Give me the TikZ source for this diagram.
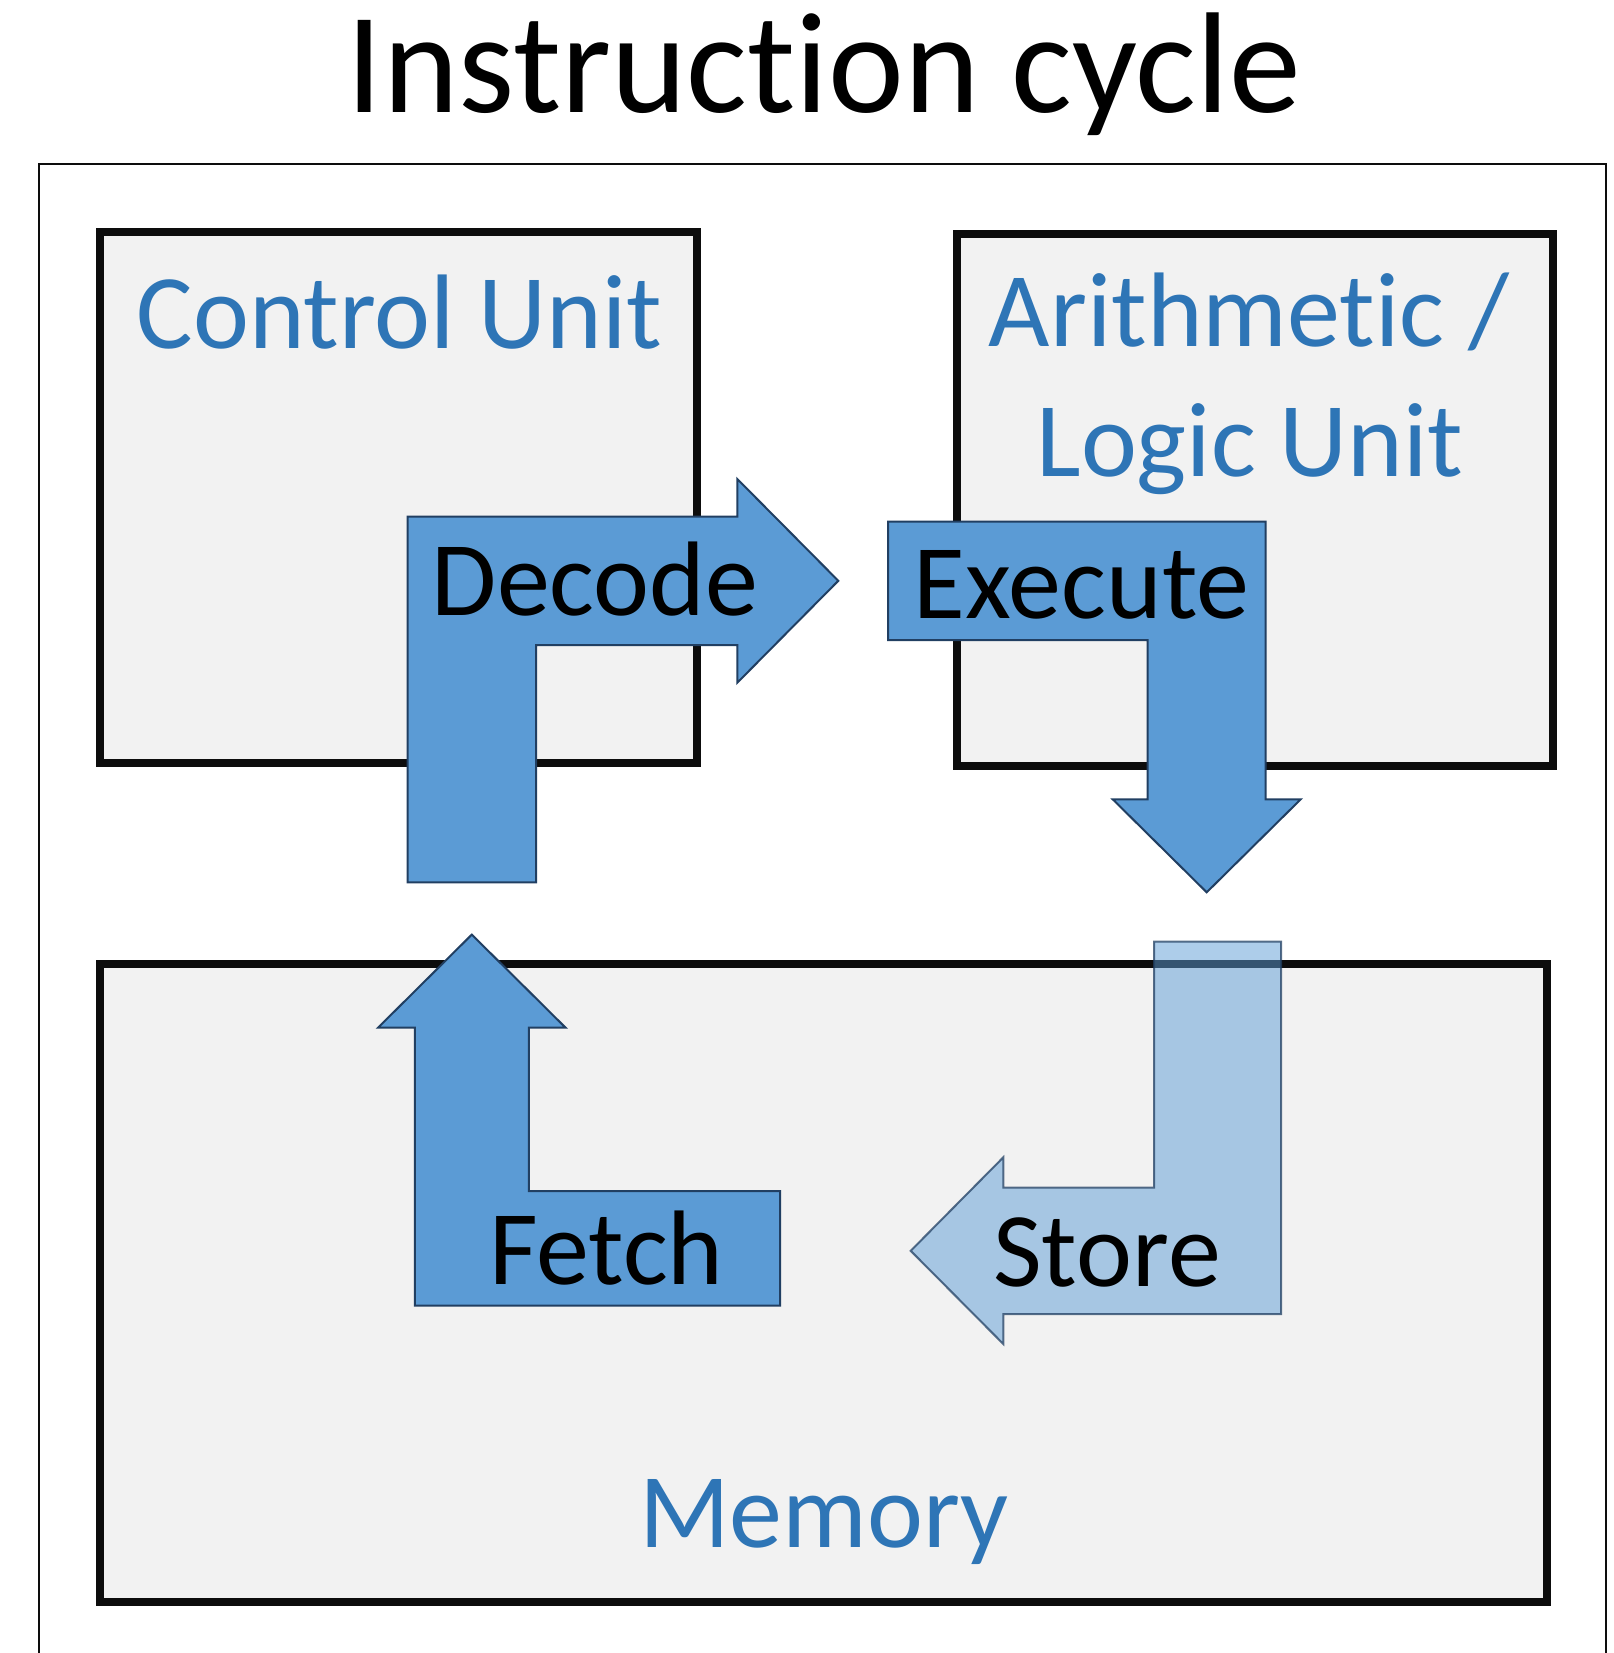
\documentclass[tikz,border=0pt]{standalone}
\usepackage{fontspec}
\setmainfont{Carlito}[Ligatures={NoCommon}]
\definecolor{boxfill}{HTML}{F2F2F2}
\definecolor{boxline}{HTML}{0D0D0D}
\definecolor{unitblue}{HTML}{2E75B6}
\definecolor{arrowfill}{HTML}{5B9BD5}
\definecolor{arrowline}{HTML}{213F62}
\tikzset{
  unitbox/.style={draw=boxline, fill=boxfill, line width=4pt},
  blockarrow/.style={draw=arrowline, fill=arrowfill, line width=1pt, line join=miter},
  fadedarrow/.style={blockarrow, fill opacity=0.5, draw opacity=0.75},
  unitlabel/.style={anchor=base, inner sep=0pt, text=unitblue, font=\fontsize{53}{64}\selectfont},
  steplabel/.style={anchor=base, inner sep=0pt, text=black, font=\fontsize{53}{64}\selectfont},
}
\begin{document}
\begin{tikzpicture}[x=0.5pt, y=-0.5pt]
\useasboundingbox (0,0) rectangle (1613,1653);

% title
\node[anchor=base, inner sep=0pt, font=\fontsize{71.8}{86}\selectfont] (title) at (824,112.8) {Instruction cycle};

% outer frame, open at the bottom
\draw[boxline, line width=1pt] (39.3,1660) -- (39.3,164) -- (1605.7,164) -- (1605.7,1660);

% the three units
\draw[unitbox] (100.3,231.7) rectangle (696.7,763.3);
\draw[unitbox] (957,234) rectangle (1553,765.5);
\draw[unitbox] (100.3,964) rectangle (1546.5,1602);

\node[unitlabel] (cu) at (399.6,348.6) {Control Unit};
\node[unitlabel] (alu1) at (1249,346.6) {Arithmetic /};
\node[unitlabel] (alu2) at (1250,476.2) {Logic Unit};
\node[unitlabel] (mem) at (824,1547) {Memory};

% decode: up out of the control unit, then right
\draw[blockarrow] (407.7,882.3) -- (407.7,516.7) -- (737.3,516.7) -- (737.3,479)
  -- (838.3,580.8) -- (737.3,682.7) -- (737.3,645) -- (536,645) -- (536,882.3) -- cycle;

% execute: right, then down out of the ALU
\draw[blockarrow] (888,521.5) -- (1265.7,521.5) -- (1265.7,799.3) -- (1300.7,799.3)
  -- (1206.7,892.3) -- (1112.7,799.3) -- (1147.7,799.3) -- (1147.7,640) -- (888,640) -- cycle;

% fetch: left along the memory, then up
\draw[blockarrow] (414.8,1305.7) -- (414.8,1027.7) -- (378,1027.7) -- (471.8,934.6)
  -- (565.6,1027.7) -- (528.8,1027.7) -- (528.8,1191) -- (780.2,1191) -- (780.2,1305.7) -- cycle;

% store: down into the memory, then left (translucent)
\draw[fadedarrow] (1154,941.7) -- (1281,941.7) -- (1281,1314) -- (1003.3,1314)
  -- (1003.3,1344) -- (910.7,1250.8) -- (1003.3,1157.3) -- (1003.3,1187.7) -- (1154,1187.7) -- cycle;

\node[steplabel] (decode) at (595,615.2) {Decode};
\node[steplabel] (execute) at (1081.5,618) {Execute};
\node[steplabel] (fetch) at (606.5,1284) {Fetch};
\node[steplabel] (store) at (1107,1286.5) {Store};
\end{tikzpicture}
\end{document}
